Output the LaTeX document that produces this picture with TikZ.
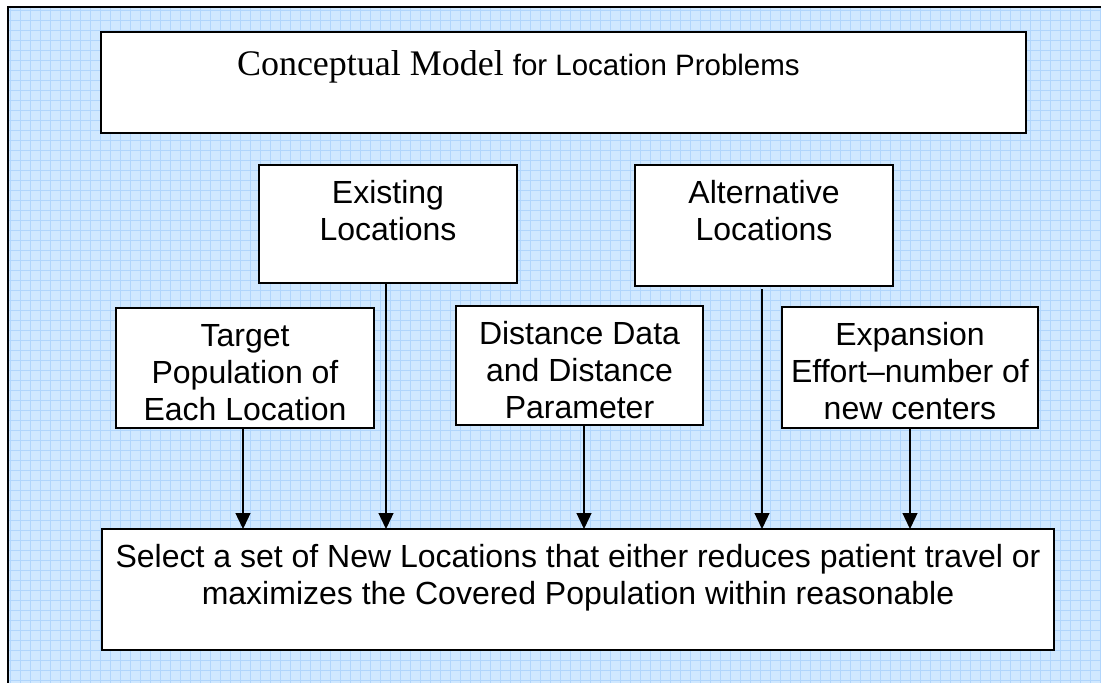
\documentclass[tikz,border=0pt]{standalone}
\usepackage{fontspec}
\setmainfont{Liberation Sans}
\newfontfamily\timesfont{Liberation Serif}
\usetikzlibrary{arrows.meta,calc}
\definecolor{gridbg}{RGB}{208,232,255}
\definecolor{gridln}{RGB}{176,213,252}
\newcommand{\bxtext}[3]{\parbox[c][#2pt][t]{#1pt}{\centering\rule{0pt}{38pt}#3}}
\begin{document}
\begin{tikzpicture}[x=1pt,y=-1pt,
  box/.style={draw=black,line width=1.6pt,fill=white,inner sep=0pt,outer sep=0pt,anchor=north west,font=\fontsize{32}{37}\selectfont},
  arr/.style={line width=1.3pt,-{Triangle[width=15pt,length=16pt]}}]
\useasboundingbox (0,0) rectangle (1101,683);
\fill[gridbg] (8,7) rectangle (1101,683);
\draw[gridln,line width=0.5pt] (8,7) grid[step=10pt] (1101,683);
\draw[line width=2.4pt] (8,683) -- (8,7) -- (1101,7);

\node[box] (title) at (101,32) {\parbox[c][101pt][t]{925pt}{\hspace*{136pt}\rule{0pt}{43pt}{\timesfont\fontsize{36}{40}\selectfont Conceptual Model} {\fontsize{29.5}{36}\selectfont for Location Problems}}};
\node[box] (exist) at (259,165) {\bxtext{258}{118}{Existing\\Locations}};
\node[box] (alt) at (635,165) {\bxtext{258}{121}{Alternative\\Locations}};
\node[box] (tgt) at (116,308) {\bxtext{258}{120}{Target\\Population of\\Each Location}};
\node[box] (dist) at (456,306) {\bxtext{247}{119}{Distance Data\\and Distance\\Parameter}};
\node[box] (exp) at (782,307) {\bxtext{256}{121}{Expansion\\Effort--number of\\new centers}};
\node[box] (sel) at (102,529) {\bxtext{952}{121}{Select a set of New Locations that either reduces patient travel or\\maximizes the Covered Population within reasonable}};

\draw[arr] ($(tgt.south)+(-2,0)$) -- ($(tgt.south |- sel.north)+(-2,0)$);
\draw[arr] ($(exist.south)+(-2,0)$) -- ($(exist.south |- sel.north)+(-2,0)$);
\draw[arr] ($(dist.south)+(4.5,0)$) -- ($(dist.south |- sel.north)+(4.5,0)$);
\draw[arr] ($(alt.south)+(-2,3)$) -- ($(alt.south |- sel.north)+(-2,0)$);
\draw[arr] (exp.south) -- (exp.south |- sel.north);
\end{tikzpicture}
\end{document}
